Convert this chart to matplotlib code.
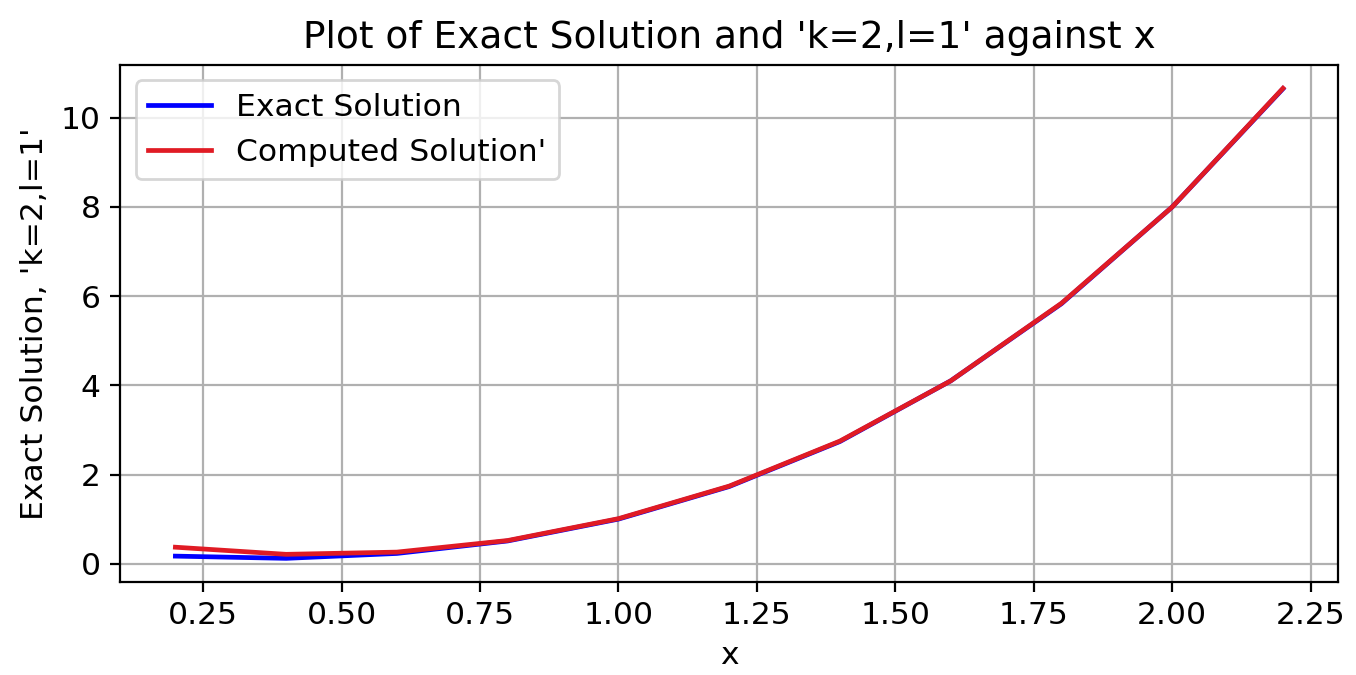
import numpy as np
import matplotlib.pyplot as plt

# grid points and the two solutions at each
x = [0.2, 0.4, 0.6, 0.8, 1.0, 1.2, 1.4, 1.6, 1.8, 2.0, 2.2]
exact = [0.17, 0.12, 0.23, 0.51, 1.0, 1.73, 2.74, 4.1, 5.83, 8.0, 10.65]
computed = [0.37, 0.21, 0.26, 0.52, 1.01, 1.74, 2.75, 4.1, 5.84, 8.0, 10.66]

plt.rcParams['font.size'] = 11.3

fig = plt.figure(figsize=(6.78, 3.375), dpi=200)
ax = fig.add_axes([0.0885, 0.138, 0.8985, 0.766])

ax.plot(x, exact, color="b", lw=1.7, label="Exact Solution")
ax.plot(x, computed, color="#e01b24", lw=1.7, label="Computed Solution'")
ax.set_xlim(0.1, 2.3)
ax.set_xticks([0.25, 0.5, 0.75, 1.0, 1.25, 1.5, 1.75, 2.0, 2.25])
ax.set_title("Plot of Exact Solution and 'k=2,l=1' against x", fontsize=13.5)
ax.set_xlabel("x")
ax.set_ylabel("Exact Solution, 'k=2,l=1'")
ax.legend(loc="upper left")
ax.grid(True)

fig.savefig("out.png", dpi=200)
